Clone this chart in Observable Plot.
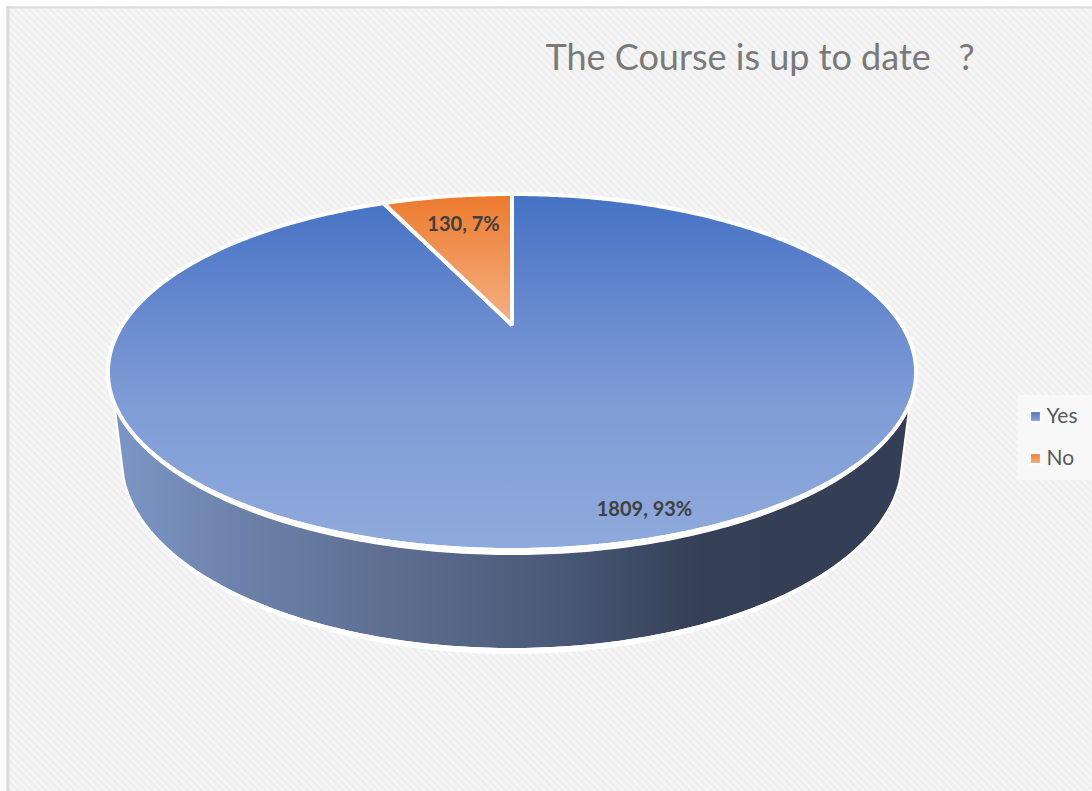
<!DOCTYPE html>
<html>
<head>
<meta charset="utf-8">
<script src="https://cdn.jsdelivr.net/npm/d3@7"></script>
<script src="https://cdn.jsdelivr.net/npm/@observablehq/plot@0.6"></script>
<style>
html,body{margin:0;padding:0;background:#fff;overflow:hidden}
svg{display:block}
</style>
</head>
<body>
<div id="chart"></div>
<script>
const categories = ["Yes", "No"];
const values = [1809, 130];
const titleText = "The Course is up to date \u00A0 ?";

const total = d3.sum(values);
const labels = values.map(v => `${v}, ${Math.round(v / total * 100)}%`);

// Tilted-disc projection of the pie (perspective), in page units
const disc = {cx: 512, apexY: 325, b: 389.7, a: 165.6, k: 0.264};
const project = t => {
  const u = Math.sin(t), v = Math.cos(t), w = 1 + disc.k * v;
  return {x: disc.cx + disc.b * u / w, y: disc.apexY - disc.a * v / w};
};
const apex = {x: disc.cx, y: disc.apexY};

// Slices from the values, clockwise from 12 o'clock
const arcs = d3.pie().sort(null)(values);
const slice = a => {
  const n = Math.max(8, Math.ceil((a.endAngle - a.startAngle) * 90));
  return d3.range(n + 1).map(i => {
    const p = project(a.startAngle + (a.endAngle - a.startAngle) * i / n);
    return {x1: apex.x, y1: apex.y, x2: p.x, y2: p.y};
  });
};

// Rims: ellipses for the top face and the foot of the wall
const rimTop = {cx: 512, cy: 372, rx: 404, ry: 178};
const rimLow = {cx: 512, cy: 460, rx: 390, ry: 189};
const deg = Math.PI / 180;
const rim = (e, f) => ({x: e.cx + e.rx * Math.cos(f), y: e.cy + e.ry * Math.sin(f)});

// Side wall: lower part of the top rim to the lower rim
const wall = d3.range(181).map(i => {
  const s = i / 180;
  const a = rim(rimTop, (170 - 160 * s) * deg);
  const b = rim(rimLow, (175 - 170 * s) * deg);
  return {x1: a.x, y1: a.y, x2: b.x, y2: b.y};
});

// White bands that thicken towards the front of each rim
const band = (e, inner, outer, from, to) => d3.range(181).map(i => {
  const f = (from + (to - from) * i / 180) * deg;
  const a = rim({...e, ry: e.ry + inner}, f);
  const b = rim({...e, rx: e.rx + 1, ry: e.ry + outer}, f);
  return {x1: a.x, y1: a.y, x2: b.x, y2: b.y};
});

const defs = () => d3.create("svg:defs").html(`
  <pattern id="hatch" width="5" height="5" patternUnits="userSpaceOnUse" patternTransform="rotate(-45)">
    <rect width="5" height="5" fill="#efefef"/>
    <rect width="2.5" height="5" fill="#f6f6f6"/>
  </pattern>
  <linearGradient id="gYes" x1="0" y1="0" x2="0" y2="1">
    <stop offset="0" stop-color="#4472c4"/>
    <stop offset="0.35" stop-color="#6a8bcf"/>
    <stop offset="0.6" stop-color="#7f9dd6"/>
    <stop offset="1" stop-color="#8faadc"/>
  </linearGradient>
  <linearGradient id="gNo" x1="0" y1="0" x2="0" y2="1">
    <stop offset="0" stop-color="#ec7a2d"/>
    <stop offset="1" stop-color="#f4b183"/>
  </linearGradient>
  <linearGradient id="gWall" x1="0" y1="0" x2="1" y2="0">
    <stop offset="0" stop-color="#7b96c6"/>
    <stop offset="0.17" stop-color="#6c80a8"/>
    <stop offset="0.36" stop-color="#5c6d8f"/>
    <stop offset="0.55" stop-color="#4a5a78"/>
    <stop offset="0.74" stop-color="#353f56"/>
    <stop offset="1" stop-color="#343f55"/>
  </linearGradient>
  <linearGradient id="gKeyYes" x1="0" y1="0" x2="0" y2="1">
    <stop offset="0" stop-color="#4f7bc8"/>
    <stop offset="1" stop-color="#86a3da"/>
  </linearGradient>
  <linearGradient id="gKeyNo" x1="0" y1="0" x2="0" y2="1">
    <stop offset="0" stop-color="#ee8640"/>
    <stop offset="1" stop-color="#f3a873"/>
  </linearGradient>`).node();

const legend = categories.map((c, i) => ({name: c, y: [416, 458][i], key: ["url(#gKeyYes)", "url(#gKeyNo)"][i]}));
const ribbon = {x1: "x1", y1: "y1", x2: "x2", y2: "y2"};

const chart = Plot.plot({
  width: 1092, height: 791,
  margin: 0,
  x: {domain: [0, 1092], range: [0, 1092], axis: null},
  y: {domain: [0, 791], range: [0, 791], axis: null},
  style: {fontFamily: "Lato, sans-serif", background: "#fff"},
  marks: [
    defs,
    Plot.rect([{}], {x1: 6, x2: 1092, y1: 6, y2: 791, fill: "url(#hatch)"}),
    Plot.ruleX([7.5], {y1: 6, y2: 791, stroke: "#dcdcdc", strokeWidth: 3}),
    Plot.ruleY([7], {x1: 6, x2: 1092, stroke: "#dcdcdc", strokeWidth: 2}),
    Plot.rect([{}], {x1: 1018, x2: 1092, y1: 395, y2: 480, fill: "#f8f8f8"}),

    Plot.area(wall, {...ribbon, fill: "url(#gWall)", stroke: "#fff", strokeWidth: 2, strokeLinejoin: "round"}),
    Plot.area(band(rimLow, -1, 5, 0, 180), {...ribbon, fill: "#fff"}),
    Plot.area(slice(arcs[0]), {...ribbon, fill: "url(#gYes)", stroke: "#fff", strokeWidth: 4, strokeLinejoin: "miter"}),
    Plot.area(slice(arcs[1]), {...ribbon, fill: "url(#gNo)", stroke: "#fff", strokeWidth: 4, strokeLinejoin: "miter"}),
    Plot.area(band(rimTop, -2, 5, 0, 180), {...ribbon, fill: "#fff"}),

    Plot.text([labels[0]], {x: 644, y: 509, text: d => d, fontSize: 20, fontWeight: 700, fill: "#404040"}),
    Plot.text([labels[1]], {x: 463, y: 224, text: d => d, fontSize: 20, fontWeight: 700, fill: "#404040"}),

    Plot.text([titleText], {x: 545, y: 58, text: d => d, textAnchor: "start", fontSize: 36, fill: "#7a7a7a"}),

    Plot.dot(legend, {x: 1035, y: "y", symbol: "square", r: 8, fill: "#fbfbfb"}),
    Plot.dot(legend, {x: 1035, y: "y", symbol: "square", r: 5, fill: "key"}),
    Plot.text(legend, {x: 1046, y: "y", text: "name", textAnchor: "start", fontSize: 21, fill: "#595959"})
  ]
});
document.getElementById("chart").append(chart);
</script>
</body>
</html>
